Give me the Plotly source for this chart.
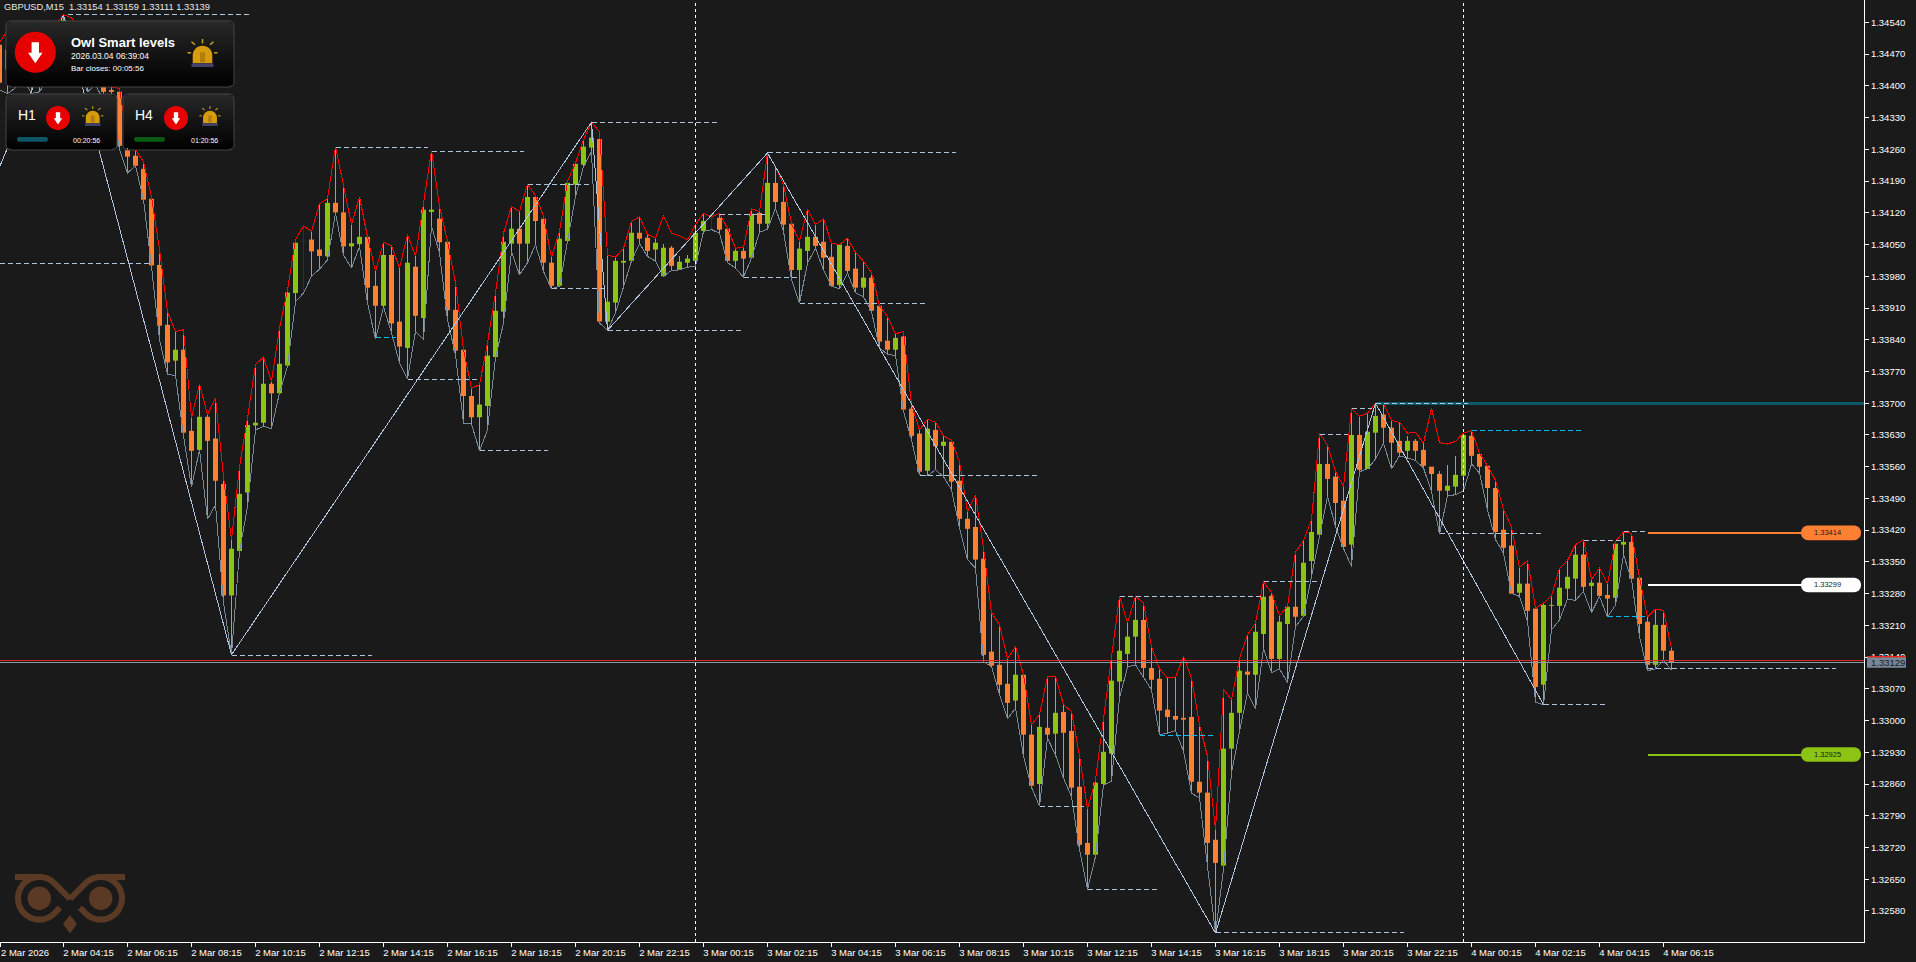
import math
import plotly.graph_objects as go

# ---------- data (prices in points, 1 point = 0.00001) ----------
symbol_line = "GBPUSD,M15  1.33154 1.33159 1.33111 1.33139"

opens = [134491,134436,134469,134444,134484,134431,134475,134458,
134511,134535,134497,134462,134447,134422,134391,134387,
134258,134246,134217,134151,134005,133873,133794,133818,
133639,133597,133670,133622,133522,133276,133374,133503,
133651,133657,133743,133722,133783,133943,134056,134061,
134039,134024,134142,134121,134046,134051,134067,133959,
133915,134027,133880,133822,134001,133888,134122,134107,
134056,133906,133818,133716,133669,133694,133802,133902,
134052,134085,134052,134155,134107,134010,133959,134058,
134182,134226,134264,134283,133880,133922,134010,134014,
134076,134065,134039,133980,134043,133994,134010,134014,
134080,134106,134109,134085,134014,134036,134021,134120,
134096,134186,134144,134096,133994,134036,134067,134056,
134023,133961,134047,133997,133955,133977,133915,133838,
133818,133847,133688,133633,133551,133641,133606,133615,
133529,133445,133427,133357,133152,133123,133081,133044,
133101,132969,132860,132984,132971,133019,132977,132854,
132730,132704,132860,132927,133086,133147,133185,133222,
133116,133092,133024,133010,133006,133008,132865,132841,
132737,132680,132938,133017,133108,133101,133191,133275,
133136,133213,133251,133231,133352,133410,133566,133538,
133485,133388,133630,133555,133635,133675,133646,133617,
133595,133617,133597,133560,133544,133507,133516,133540,
133628,133588,133562,133513,133421,133386,133282,133302,
133247,133079,133253,133253,133291,133313,133366,133297,
133304,133277,133271,133388,133394,133315,133218,133123,
133211,133154]

closes = [134407,134480,134436,134491,134458,134480,134444,134513,
134546,134491,134458,134436,134458,134387,134387,134268,
134244,134224,134149,134004,133871,133790,133818,133635,
133595,133670,133617,133529,133276,133379,133500,133652,
133657,133743,133722,133787,133944,134054,134056,134035,
134025,134142,134121,134046,134053,134067,133955,133915,
134027,133876,133825,134010,133893,134127,134127,134055,
133905,133816,133716,133669,133697,133805,133904,134056,
134085,134052,134155,134102,134010,133959,134063,134186,
134228,134266,134286,133880,133924,134014,134014,134076,
134063,134036,134054,134043,134003,134012,134019,134076,
134102,134106,134083,134014,134036,134019,134118,134096,
134186,134144,134094,133994,134041,134067,134047,134021,
133959,134050,133992,133955,133977,133904,133836,133818,
133844,133686,133628,133549,133644,133605,133615,133527,
133445,133423,133355,133145,133121,133079,133039,133101,
132969,132856,132986,132969,133017,132973,132852,132726,
132704,132863,132931,133088,133154,133185,133222,133116,
133090,133022,133008,133002,133002,132865,132841,132730,
132686,132938,133017,133110,133101,133196,133273,133136,
133218,133251,133229,133348,133416,133566,133533,133480,
133383,133630,133553,133637,133672,133646,133613,133591,
133617,133595,133562,133544,133507,133518,133542,133630,
133584,133560,133513,133416,133381,133280,133302,133242,
133074,133255,133255,133293,133317,133366,133295,133304,
133275,133269,133390,133394,133313,133213,133123,133211,
133154,133129]

highs = [134495,134524,134506,134524,134519,134506,134502,134535,
134557,134550,134528,134502,134491,134458,134398,134394,
134281,134259,134233,134155,134039,133902,133858,133862,
133668,133742,133675,133711,133538,133399,133560,133667,
133785,133802,133748,133866,133950,134061,134091,134079,
134140,134151,134266,134182,134094,134155,134067,133991,
134055,134047,133998,134072,134024,134141,134257,134134,
134057,133965,133818,133733,133741,133833,133943,134075,
134134,134123,134183,134158,134112,134022,134079,134189,
134230,134281,134320,134299,134027,134022,134042,134101,
134111,134072,134064,134114,134075,134069,134061,134094,
134119,134111,134119,134086,134042,134044,134129,134123,
134252,134222,134182,134096,134057,134128,134094,134107,
134053,134050,134064,134033,134013,133988,133915,133891,
133853,133858,133697,133641,133665,133658,133628,133618,
133571,133461,133498,133380,133238,133211,133136,133163,
133101,132991,133013,133097,133097,133035,133020,132922,
132805,132869,133002,133141,133275,133215,133274,133259,
133163,133114,133094,133096,133141,133094,132991,132921,
132759,133069,133046,133136,133189,133215,133307,133282,
133231,133252,133372,133397,133443,133634,133608,133549,
133516,133688,133671,133678,133700,133700,133662,133658,
133634,133636,133612,133689,133613,133610,133616,133634,
133640,133590,133562,133530,133465,133427,133338,133353,
133248,133259,133275,133336,133353,133388,133399,133311,
133336,133302,133395,133416,133413,133315,133228,133246,
133243,133159]

lows = [134391,134383,134396,134414,134383,134387,134414,134431,
134484,134458,134431,134387,134402,134369,134378,134259,
134208,134224,134149,134001,133840,133764,133761,133628,
133515,133597,133444,133476,133260,133145,133373,133472,
133641,133649,133644,133723,133781,133924,133943,133980,
133996,134016,134119,134027,133998,134046,133921,133841,
133913,133855,133789,133753,133858,133841,134090,134032,
133884,133807,133656,133654,133595,133641,133800,133877,
134035,133983,134010,134050,133991,133952,133958,134057,
134156,134222,134255,133877,133861,133899,133958,134014,
134052,134024,134013,133980,133993,133994,134000,134002,
134079,134083,134075,134010,133998,133978,134020,134077,
134084,134130,134079,133972,133921,134009,134042,133994,
133958,133952,133987,133944,133935,133902,133822,133808,
133805,133682,133619,133542,133540,133553,133538,133509,
133425,133355,133336,133130,133119,133057,133004,133027,
132921,132853,132811,132961,132924,132873,132832,132715,
132627,132700,132858,132866,133050,133118,133123,133094,
133068,132969,132972,132978,132932,132840,132829,132678,
132531,132671,132884,132976,133061,133025,133160,133105,
133114,133084,133207,133230,133322,133406,133494,133428,
133380,133340,133549,133555,133577,133612,133555,133584,
133579,133574,133557,133505,133411,133496,133498,133507,
133566,133546,133465,133399,133369,133280,133274,133219,
133040,133035,133200,133222,133268,133265,133285,133238,
133274,133228,133255,133366,133311,133185,133110,133114,
133133,133111]

bars = list(range(-8, 202))
assert len(opens) == len(closes) == len(highs) == len(lows) == len(bars)

# bars whose wick stops short of the red line: {bar: wick top}
wick_top = {1:134541, 75:134051, 76:134047, 77:134024, 78:134026, 168:133628, 169:133622,
            171:133560, 172:133551, 173:133564, 174:133584}
dark_bars = [30, 81]

zigzag_bars = [-13, 0, 21, 66, 68, 88, 144, 164, 185]
zigzag_vals = [134011, 134557, 133145, 134320, 133861, 134252, 132531, 133700, 133035]

# swing levels: (first bar, last bar, price)
levels_light = [(0.5,23.6,134558),(-8,10.8,134009),(34,45.6,134265),(46,57.5,134256),
    (21,38.6,133144),(43,51.8,133753),(52,60.6,133596),(58,66,134183),(61,68,133952),
    (66,82,134320),(68,84.9,133861),(88,111.6,134252),(82,88,134117),(85,92,133978),
    (92,107.9,133921),(107,122,133540),(122,127.6,132811),(128,136.7,132628),
    (132,150,133274),(150,157,133307),(144,167.6,132533),(157,160.5,133630),
    (161,163.5,133688),(164,175.6,133700),(172,185,133413),(185,192.8,133036),
    (190,195,133398),(195,198,133416),(198,221.6,133114)]
levels_cyan = [(39,41.5,133844),(137,144,132968),(176,189.8,133640),(193,198,133230)]

teal_level = 133700
teal_start = 164
orange_level, white_level, green_level = 133414, 133299, 132925
level_start, level_end = 198, 217.2
bid_level, ask_level = 133129, 133132
separator_bars = [79, 175]

y_tick_labels = ["1.32580","1.32650","1.32720","1.32790","1.32860","1.32930","1.33000","1.33070",
    "1.33140","1.33210","1.33280","1.33350","1.33420","1.33490","1.33560","1.33630","1.33700",
    "1.33770","1.33840","1.33910","1.33980","1.34050","1.34120","1.34190","1.34260","1.34330",
    "1.34400","1.34470","1.34540"]
x_tick_labels = ["2 Mar 2026","2 Mar 04:15","2 Mar 06:15","2 Mar 08:15","2 Mar 10:15","2 Mar 12:15",
    "2 Mar 14:15","2 Mar 16:15","2 Mar 18:15","2 Mar 20:15","2 Mar 22:15","3 Mar 00:15","3 Mar 02:15",
    "3 Mar 04:15","3 Mar 06:15","3 Mar 08:15","3 Mar 10:15","3 Mar 12:15","3 Mar 14:15","3 Mar 16:15",
    "3 Mar 18:15","3 Mar 20:15","3 Mar 22:15","4 Mar 00:15","4 Mar 02:15","4 Mar 04:15","4 Mar 06:15"]

# ---------- styles ----------
BG = "#1a1a1a"
ORANGE = "#ff8033"
GREEN = "#8cc414"
DARK = "#2b3138"
LEVEL = "#b0c4de"
FONT = "Liberation Sans"
W, H, PW, PH = 1916, 962, 1864, 942
BODY_WIDTH = 0.625   # share of the bar pitch taken by a candle body
MIN_BODY = 2         # points: a doji still shows as a thin body


def pr(v):
    return v / 1e5


fig = go.Figure()


def line(xs, ys, color, width=1, dash=None):
    fig.add_trace(go.Scatter(x=xs, y=ys, mode="lines", hoverinfo="skip", showlegend=False,
                             line=dict(color=color, width=width, dash=dash), connectgaps=False))


# ---------- candles: wicks then bodies, one group per colour ----------
def candle_group(idx, color):
    wx, wy = [], []
    for k in idx:
        b = bars[k]
        top = highs[k] if b in dark_bars else wick_top.get(b, highs[k])
        wx += [b, b, None]
        wy += [pr(top), pr(lows[k]), None]
    line(wx, wy, color)
    fig.add_trace(go.Bar(
        x=[bars[k] for k in idx],
        base=[pr(min(opens[k], closes[k])) for k in idx],
        y=[pr(max(abs(opens[k] - closes[k]), MIN_BODY)) for k in idx],
        width=BODY_WIDTH, marker=dict(color=color, line=dict(width=0)),
        hoverinfo="skip", showlegend=False))


candle_group([k for k, b in enumerate(bars) if b in dark_bars], DARK)
candle_group([k for k, b in enumerate(bars) if b not in dark_bars and closes[k] >= opens[k]], GREEN)
candle_group([k for k, b in enumerate(bars) if b not in dark_bars and closes[k] < opens[k]], ORANGE)

# ---------- indicator lines ----------
line(bars, [pr(v) for v in lows], "#778899")
line(bars, [pr(v) for v in highs], "#ff0000")
line(zigzag_bars, [pr(v) for v in zigzag_vals], LEVEL)


def segs(levels):
    xs, ys = [], []
    for a, b, v in levels:
        xs += [a, b, None]
        ys += [pr(v), pr(v), None]
    return xs, ys


XMIN, XMAX = (0 - 63.5) / 8, (PW - 63.5) / 8
PY = lambda y: 134589.5 - 2.206 * y
YMAX, YMIN = pr(PY(0)), pr(PY(PH))

line([teal_start, XMAX], [pr(teal_level)] * 2, "#0b5a66", 3)
line(*segs(levels_light), LEVEL, 1, "5px,3px")
line(*segs(levels_cyan), "#00bfff", 1, "5px,3px")
for sb in separator_bars:
    line([sb, sb], [YMIN, YMAX], "#ffffff", 1, "3px,3px")
line([XMIN, XMAX], [pr(bid_level)] * 2, "#8a98a8", 1)
line([XMIN, XMAX], [pr(ask_level)] * 2, "#e02828", 1)
line([level_start, level_end], [pr(orange_level)] * 2, ORANGE, 2)
line([level_start, level_end], [pr(white_level)] * 2, "#ffffff", 2)
line([level_start, level_end], [pr(green_level)] * 2, GREEN, 2)

# ---------- overlay drawing helpers (pixel space -> paper) ----------
shapes, notes = [], []


def px(x):
    return x / PW


def py(y):
    return 1 - y / PH


def poly(points, fill=None, stroke=None, sw=0, close=True):
    d = "M " + " L ".join(f"{px(x):.5f} {py(y):.5f}" for x, y in points) + (" Z" if close else "")
    shapes.append(dict(type="path", xref="paper", yref="paper", path=d, layer="above",
                       fillcolor=fill if fill else "rgba(0,0,0,0)",
                       line=dict(color=stroke if stroke else "rgba(0,0,0,0)", width=sw)))


def arc(cx, cy, r, a0, a1, n=24):
    return [(cx + r * math.cos(math.radians(a0 + (a1 - a0) * k / n)),
             cy + r * math.sin(math.radians(a0 + (a1 - a0) * k / n))) for k in range(n + 1)]


def circle(cx, cy, r, fill):
    poly(arc(cx, cy, r, 0, 360, 48)[:-1], fill=fill)


def rrect(x0, y0, x1, y1, r, fill=None, stroke=None, sw=0):
    pts = arc(x0 + r, y0 + r, r, 180, 270, 6) + arc(x1 - r, y0 + r, r, 270, 360, 6) + \
        arc(x1 - r, y1 - r, r, 0, 90, 6) + arc(x0 + r, y1 - r, r, 90, 180, 6)
    poly(pts, fill=fill, stroke=stroke, sw=sw)


def text(x, y, s, size, color="#ffffff", bold=False, anchor="left"):
    notes.append(dict(xref="paper", yref="paper", x=px(x), y=py(y), text=f"<b>{s}</b>" if bold else s,
                      showarrow=False, xanchor=anchor, yanchor="middle", borderpad=0, borderwidth=0,
                      font=dict(family=FONT, size=size, color=color)))


def panel(x0, y0, x1, y1, r=5):
    h = y1 - y0
    step = 2
    y = y0
    while y < y1:
        t = (y - y0) / h
        g = int(round(40 * (1 - t) ** 1.1))
        d0 = max(0, r - (y - y0))
        d1 = max(0, r - (y1 - y - step))
        ins = max(r - math.sqrt(max(0, r * r - d0 * d0)) if d0 else 0,
                  r - math.sqrt(max(0, r * r - d1 * d1)) if d1 else 0)
        poly([(x0 + ins, y), (x1 - ins, y), (x1 - ins, min(y + step, y1)), (x0 + ins, min(y + step, y1))],
             fill=f"rgb({g},{g},{g})")
        y += step
    rrect(x0, y0, x1, y1, r, stroke="#454545", sw=1)


def red_arrow(cx, cy, r):
    circle(cx, cy, r, "#e60000")
    s = r / 20.5
    poly([(cx - 3.7 * s, cy - 10 * s), (cx + 3.7 * s, cy - 10 * s), (cx + 3.7 * s, cy + 0.4 * s),
          (cx + 7.2 * s, cy + 0.4 * s), (cx, cy + 11 * s), (cx - 7.2 * s, cy + 0.4 * s),
          (cx - 3.7 * s, cy + 0.4 * s)], fill="#ffffff")


def bell(cx, by, s):
    rr = 9.8 * s
    poly([(cx - rr, by)] + arc(cx, by - 7.8 * s, rr, 180, 360, 16) + [(cx + rr, by)], fill="#d69c0e")
    poly([(cx - 2.5 * s, by - 1 * s), (cx - 2.5 * s, by - 11 * s), (cx + 2.5 * s, by - 11 * s),
          (cx + 2.5 * s, by - 1 * s)], fill="#b07f10")
    poly([(cx - 11 * s, by), (cx + 11 * s, by), (cx + 11 * s, by + 3.7 * s), (cx - 11 * s, by + 3.7 * s)],
         fill="#3f4468")
    ray = "#c9a227"
    sw = 1.5 * s
    for a, b in [((0, -24.3), (0, -20)), ((-11, -21.5), (-7.5, -18.5)), ((11, -21.5), (7.5, -18.5)),
                 ((-15, -1 * 6.5 - 4), (-11.5, -10.5)), ((15, -10.5), (11.5, -10.5))]:
        poly([(cx + a[0] * s, by + a[1] * s), (cx + b[0] * s, by + b[1] * s)], stroke=ray, sw=max(1, sw), close=False)


# ---------- level pills ----------
for yv, col, lab in [(orange_level, ORANGE, "1.33414"), (white_level, "#ffffff", "1.33299"),
                     (green_level, GREEN, "1.32925")]:
    cy = (134589.5 - yv) / 2.206
    rrect(1801, cy - 7.3, 1861, cy + 7.3, 7, fill=col)
    text(1827, cy, lab, 7.5, color="#1a1a1a", anchor="center")

# ---------- current price tag ----------
poly([(1867, 657.3), (1906, 657.3), (1906, 667.8), (1867, 667.8)], fill="#778899")
poly([(1867, 656), (1906, 656), (1906, 657.3), (1867, 657.3)], fill="#ff2020")
text(1871, 662.8, "1.33129", 9.5, color="#1a1a1a")

# ---------- owl logo ----------
OWL = "#5a3a24"
for m in (lambda x: x, lambda x: 140 - x):
    upper = [(15, 877), (39.3, 877)] + arc(39.3, 898.3, 21.3, -90, -45, 8) + [(70, 899)]
    lower = arc(39.3, 898.3, 21.3, -90, -315, 40) + [(60, 907.6)]
    poly([(m(x), y) for x, y in upper], stroke=OWL, sw=6, close=False)
    poly([(m(x), y) for x, y in lower], stroke=OWL, sw=6, close=False)
    circle(m(39.3), 898.3, 11.7, OWL)
poly([(70, 915), (77, 924), (70, 933.5), (63, 924)], fill=OWL)

# ---------- dashboard panels ----------
panel(6, 21, 234, 87)
red_arrow(35.3, 52.3, 20.5)
bell(202.5, 63.3, 1)
text(70.7, 42.5, "Owl Smart levels", 13, bold=True)
text(70.7, 56, "2026.03.04 06:39:04", 8.5)
text(70.7, 69, "Bar closes: 00:05:56", 8)

panel(6, 94, 117, 150)
red_arrow(58, 118, 12)
bell(92.7, 123.3, 0.71)
text(18, 115, "H1", 14)
rrect(17, 137, 48, 141.7, 2.3, fill="#0e5566")
text(73, 140.5, "00:20:56", 7)

panel(123, 94, 234, 150)
red_arrow(176, 118, 12)
bell(210, 123.3, 0.71)
text(135, 115, "H4", 14)
rrect(134, 137, 165, 141.7, 2.3, fill="#0a5c14")
text(191, 140.5, "01:20:56", 7)

text(3.5, 7, symbol_line, 9.3, color="#e8e8e8")

# ---------- layout ----------
x_ticks = [-8 + 8 * k for k in range(len(x_tick_labels))]
x_ticks[0] = -7.93  # first tick sits on the plot's left edge
fig.update_layout(
    width=W, height=H, margin=dict(l=0, r=W - PW, t=0, b=H - PH, pad=0, autoexpand=False),
    paper_bgcolor=BG, plot_bgcolor=BG, showlegend=False, hovermode=False, dragmode=False,
    barmode="overlay",
    shapes=shapes, annotations=notes,
    font=dict(family=FONT, size=9.5, color="#ffffff"),
    xaxis=dict(range=[XMIN, XMAX], showgrid=False, zeroline=False,
               tickmode="array", tickvals=x_ticks,
               ticktext=x_tick_labels, ticks="outside", ticklen=4, tickwidth=1, tickcolor="#ffffff",
               showline=True, linecolor="#ffffff", linewidth=1, ticklabelshift=25, ticklabelstandoff=-2,
               tickfont=dict(family=FONT, size=9.5, color="#ffffff"), tickangle=0, automargin=False),
    yaxis=dict(range=[YMIN, YMAX], side="right", showgrid=False, zeroline=False,
               tickmode="array", tickvals=[float(t) for t in y_tick_labels], ticktext=y_tick_labels,
               ticks="outside", ticklen=4, tickwidth=1, tickcolor="#ffffff",
               showline=True, linecolor="#ffffff", linewidth=1,
               tickfont=dict(family=FONT, size=9.5, color="#ffffff"), automargin=False),
)

post = """
document.body.style.margin='0';
document.body.style.background='#1a1a1a';
document.documentElement.style.overflow='hidden';
var st=document.createElement('style');
st.textContent='.scatterlayer path{shape-rendering:crispEdges !important}';
document.head.appendChild(st);
"""
fig.write_html("out.html", config={"displayModeBar": False, "staticPlot": True}, post_script=post)
